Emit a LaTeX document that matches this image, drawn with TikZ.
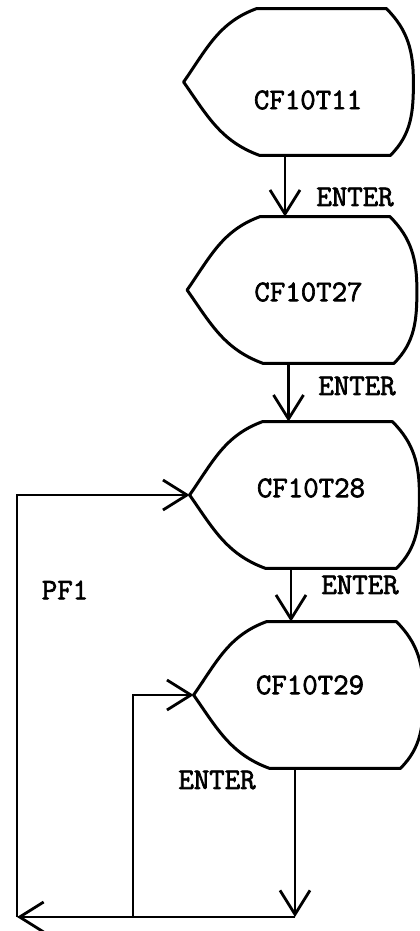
\documentclass[tikz,border=0pt]{standalone}
\usepackage{fontspec}
\newfontfamily\typefont{Latin Modern Mono}[FakeBold=2.2]
\usetikzlibrary{arrows.meta, calc}

\begin{document}
\begin{tikzpicture}[
  x=0.5pt, y=-0.5pt,
  >={Straight Barb[length=12pt, width=15pt, line width=1.4pt]},
  flow/.style={->, line width=1.1pt},
  lbl/.style={font=\typefont\fontsize{15}{17}\selectfont, inner sep=0pt},
  dispbox/.style={minimum width=101pt, minimum height=73pt, inner sep=0pt,
    append after command={\pgfextra{\let\dispnode=\tikzlastnode
      \draw[line width=1.5pt, line join=round]
        ($(\dispnode.north west)+(36.5pt,0)$) -- (\dispnode.north east)
        to[out=-45, in=90] ($(\dispnode.east)+(13.5pt,0)$)
        to[out=-90, in=45] ($(\dispnode.south east)+(2pt,0)$)
        -- ($(\dispnode.south west)+(38pt,0)$)
        to[out=160, in=-55] (\dispnode.west)
        to[out=55, in=200] ($(\dispnode.north west)+(36.5pt,0)$) -- cycle;
    }}},
]
\useasboundingbox (0,0) rectangle (419,931);

% ── display boxes ─────────────────────────────
\node[dispbox, label={[lbl, xshift=11.5pt, yshift=-9pt]center:CF10T11}] (cf11) at (285,82) {};
\node[dispbox, label={[lbl, xshift=10pt, yshift=-1pt]center:CF10T27}] (cf27) at (288.5,290) {};
\node[dispbox, label={[lbl, xshift=10pt, yshift=3.5pt]center:CF10T28}] (cf28) at (291,495) {};
\node[dispbox, label={[lbl, xshift=7.5pt, yshift=5pt]center:CF10T29}] (cf29) at (295,695) {};

% ── key labels ────────────────────────────────
\node[lbl] (k1) at (355,197) {ENTER};
\node[lbl] (k2) at (357,386) {ENTER};
\node[lbl] (k3) at (360,585) {ENTER};
\node[lbl] (k4) at (217,780) {ENTER};
\node[lbl] (pf) at (65,590) {PF1};

% ── bottom line ───────────────────────────────
\coordinate (base) at (17,917);
\coordinate (inner) at (133,917);

% ── connectors ────────────────────────────────
\draw[flow] (cf11.south) -- (cf11.south |- cf27.north);
\draw[flow] (cf27.south) -- (cf27.south |- cf28.north);
\draw[flow] (cf28.south) -- (cf28.south |- cf29.north);
\draw[flow] (cf29.south) -- (cf29.south |- base);
\draw[flow] (cf29.south |- base) -- (base);
\draw[flow] (base) |- (cf28.west);
\draw[flow] (inner) |- (cf29.west);

\end{tikzpicture}
\end{document}
